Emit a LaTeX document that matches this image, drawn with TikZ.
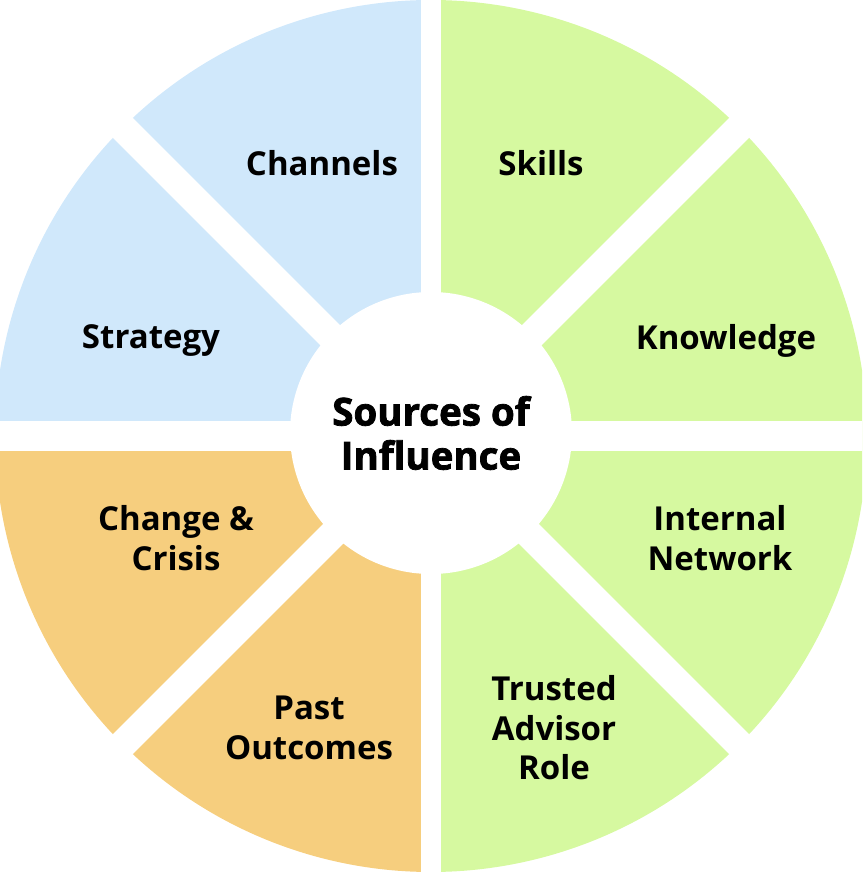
\documentclass[tikz,border=0pt]{standalone}
\usepackage{fontspec}
\setmainfont{Open Sans}
\newfontfamily\heavyfont{Open Sans}[BoldFeatures={FakeBold=2}]
\usetikzlibrary{positioning}
\definecolor{wheelblue}{RGB}{208,232,251}
\definecolor{wheelgreen}{RGB}{214,249,160}
\definecolor{wheelorange}{RGB}{246,206,126}

\begin{document}
\begin{tikzpicture}[x=1pt,y=1pt,
gap/.style={white,line width=#1},
label/.style={align=center,font=\fontsize{33}{39.5}\selectfont\bfseries,text=black},
hub/.style={circle,fill=white,minimum size=282pt,inner sep=0pt,align=center,
  font=\heavyfont\fontsize{38.5}{44}\selectfont\bfseries}]
\useasboundingbox (-431,-436) rectangle (431,436);
\clip (-431,-436) rectangle (431,436);
% the eight sectors
\foreach \a/\col in {0/wheelgreen,45/wheelgreen,90/wheelblue,135/wheelblue,
  180/wheelorange,225/wheelorange,270/wheelgreen,315/wheelgreen}
  \fill[\col] (0,0) -- (\a:436) arc[start angle=\a,delta angle=45,radius=436] -- cycle;
% white gaps between sectors
\draw[gap=20] (0,-440) -- (0,440);
\draw[gap=30] (-440,0) -- (440,0);
\draw[gap=28] (-320,-320) -- (320,320);
\draw[gap=28] (-320,320) -- (320,-320);
\node[hub] (hub) at (0,3) {Sources of\\Influence};
% labels
\node[label] (channels) at (-109,273) {Channels};
\node[label] (skills) at (110,273) {Skills};
\node[label] (strategy) at (-280,95) {Strategy};
\node[label] (knowledge) at (295,95) {Knowledge};
\node[label] (change) at (-255,-102) {Change \&\\Crisis};
\node[label] (network) at (289,-102) {Internal\\Network};
\node[label] (past) at (-122,-292) {Past\\Outcomes};
\node[label] (advisor) at (123,-292) {Trusted\\Advisor\\Role};
\end{tikzpicture}
\end{document}
